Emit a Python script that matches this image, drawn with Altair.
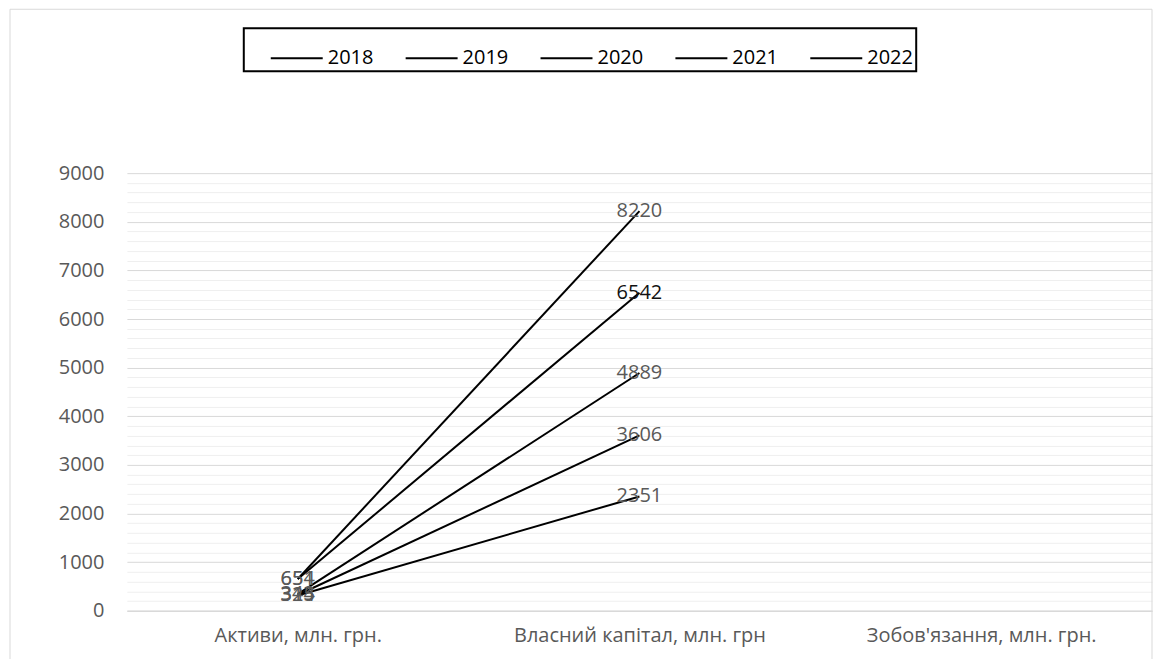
import altair as alt
import pandas as pd

categories = ["Активи, млн. грн.", "Власний капітал, млн. грн", "Зобов'язання, млн. грн."]
years = ["2018", "2019", "2020", "2021", "2022"]
assets = [315, 324, 343, 651, 654]
equity = [2351, 3606, 4889, 6542, 8220]

major_ticks = list(range(0, 9001, 1000))
minor_ticks = [v for v in range(0, 9001, 200) if v % 1000 != 0]

rows = []
for i, yr in enumerate(years):
    rows.append({"year": yr, "category": categories[0], "value": assets[i]})
    rows.append({"year": yr, "category": categories[1], "value": equity[i]})
df = pd.DataFrame(rows)

FONT = "Open Sans"
GRAY = "#595959"

x_enc = alt.X(
    "category:N",
    sort=categories,
    scale=alt.Scale(type="point", domain=categories, padding=0.5),
    axis=alt.Axis(title=None, labelAngle=0, ticks=False, domainColor="#d9d9d9",
                  domainWidth=1.5, labelFontSize=20, labelColor=GRAY,
                  labelPadding=15, labelFont=FONT, grid=False, labelLimit=0),
)

base = alt.Chart(df)

lines = base.mark_line(strokeWidth=2).encode(
    x=x_enc,
    y=alt.Y("value:Q", scale=alt.Scale(domain=[0, 9000], nice=False),
            axis=alt.Axis(values=minor_ticks, title=None, labels=False, ticks=False,
                          domain=False, grid=True, gridColor="#efefef", orient="left")),
    color=alt.Color("year:N", sort=years,
                    scale=alt.Scale(domain=years, range=["#000000"] * 5),
                    legend=alt.Legend(title=None)),
    detail="year:N",
)

labels = base.mark_text(fontSize=20, font=FONT, align="center",
                        baseline="middle").encode(
    x=x_enc,
    y=alt.Y("value:Q", scale=alt.Scale(domain=[0, 9000], nice=False),
            axis=alt.Axis(values=major_ticks, title=None, ticks=False, domain=False,
                          grid=True, gridColor="#d9d9d9", labelFontSize=20,
                          labelColor=GRAY, labelPadding=23, labelFont=FONT,
                          format="d", orient="left")),
    text="value:Q",
    color=alt.condition(alt.datum.value == 6542, alt.value("#111111"), alt.value(GRAY)),
)

frame_data = alt.InlineData(values=[{"k": 1}])
frame_top = alt.Chart(frame_data).mark_rule(color="#d9d9d9", strokeWidth=1).encode(
    x=alt.value(-117), x2=alt.value(1026), y=alt.value(-164), y2=alt.value(-164))
frame_left = alt.Chart(frame_data).mark_rule(color="#d9d9d9", strokeWidth=1).encode(
    x=alt.value(-117), x2=alt.value(-117), y=alt.value(-164), y2=alt.value(487))
frame_right = alt.Chart(frame_data).mark_rule(color="#d9d9d9", strokeWidth=1).encode(
    x=alt.value(1026), x2=alt.value(1026), y=alt.value(-164), y2=alt.value(487))

chart = alt.layer(lines, labels, frame_top, frame_left, frame_right).resolve_axis(
    y="independent"
).properties(
    width=1026, height=438,
    padding={"left": 9, "top": 8, "right": 5, "bottom": 0},
    background="white",
).configure_view(
    stroke=None
).configure_legend(
    orient="none", legendX=117, legendY=-145, direction="horizontal",
    strokeColor="#000000", strokeWidth=2, padding=3,
    labelFontSize=20, labelColor="#000000", labelFont=FONT,
    symbolType="stroke", symbolStrokeWidth=2, symbolSize=2704,
    symbolOffset=23, columnPadding=8,
)

chart.save("out.html", embed_options={"renderer": "svg", "actions": False})
